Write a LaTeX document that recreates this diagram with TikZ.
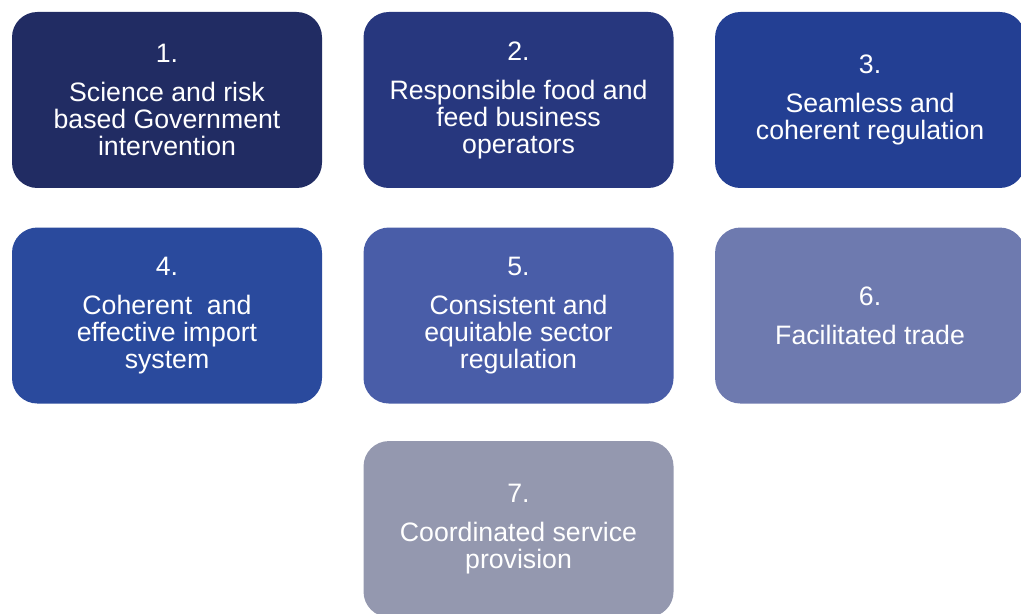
\documentclass[tikz,border=0pt]{standalone}
\usepackage{fontspec}
\setmainfont{Liberation Sans}
\usetikzlibrary{positioning}

\definecolor{navyA}{HTML}{212C63}
\definecolor{navyB}{HTML}{27377E}
\definecolor{navyC}{HTML}{233F93}
\definecolor{blueD}{HTML}{2A4A9D}
\definecolor{blueE}{HTML}{495DA8}
\definecolor{blueF}{HTML}{6E7AAF}
\definecolor{greyG}{HTML}{9498AF}

\begin{document}
\begin{tikzpicture}[
    x=0.75pt, y=0.75pt,
    % Node styles
    goal/.style={rectangle, rounded corners=19pt, draw=none, text=white,
                 minimum width=232.5pt, minimum height=132pt, inner sep=0pt,
                 align=center, font=\fontsize{20}{20.25}\selectfont}
]

\path[use as bounding box] (0,0) rectangle (1021,614);

% Row 1
\node[goal, fill=navyA] (science) at (167,514) {
    1.\\[9pt]
    Science and risk\\
    based Government\\
    intervention
};
\node[goal, fill=navyB, right=30.75pt of science] (operators) {
    2.\\[9pt]
    Responsible food and\\
    feed business\\
    operators
};
\node[goal, fill=navyC, right=30.75pt of operators] (regulation) {
    3.\\[9pt]
    Seamless and\\
    coherent regulation
};

% Row 2
\node[goal, fill=blueD, below=29.25pt of science] (import) {
    4.\\[9pt]
    Coherent\ \ and\\
    effective import\\
    system
};
\node[goal, fill=blueE, below=29.25pt of operators] (sector) {
    5.\\[9pt]
    Consistent and\\
    equitable sector\\
    regulation
};
\node[goal, fill=blueF, below=29.25pt of regulation] (trade) {
    6.\\[9pt]
    Facilitated trade
};

% Row 3
\node[goal, fill=greyG, below=27.75pt of sector] (service) {
    7.\\[9pt]
    Coordinated service\\
    provision
};

\end{tikzpicture}
\end{document}
